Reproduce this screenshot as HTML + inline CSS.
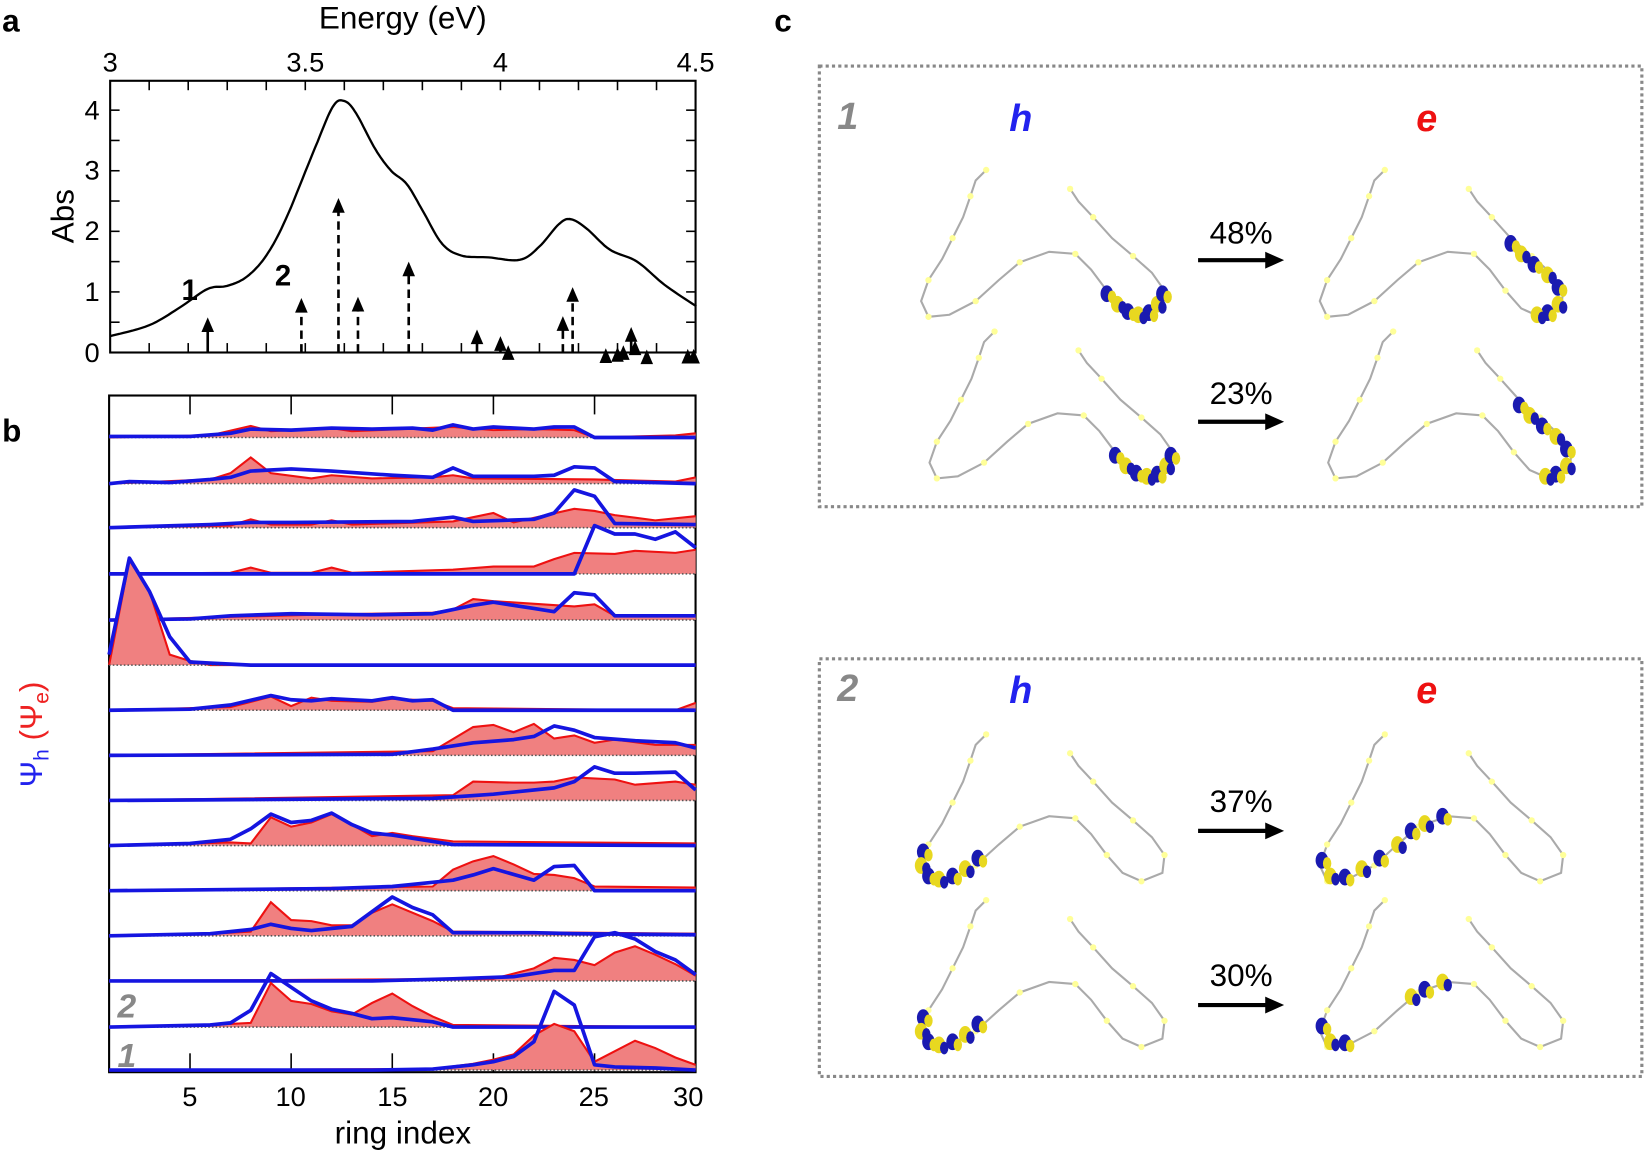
<!DOCTYPE html>
<html><head><meta charset="utf-8"><style>
html,body{margin:0;padding:0;background:#fff}
svg{display:block}
text{font-family:"Liberation Sans",sans-serif}
</style></head><body>
<svg id="s" width="1645" height="1153" viewBox="0 0 1645 1153" xmlns="http://www.w3.org/2000/svg">
<rect width="1645" height="1153" fill="#fff"/>
<g transform="scale(1.04911)">
<text x="2" y="30" font-size="30" font-weight="bold">a</text>
<text x="2" y="421" font-size="30" font-weight="bold">b</text>
<text x="738" y="30" font-size="30" font-weight="bold">c</text>
<text x="384" y="27" font-size="30" text-anchor="middle">Energy (eV)</text>
<g font-size="26" text-anchor="middle">
<text x="105" y="68">3</text><text x="291" y="68">3.5</text><text x="477" y="68">4</text><text x="663" y="68">4.5</text>
</g>
<g font-size="26" text-anchor="end">
<text x="95" y="345">0</text><text x="95" y="287">1</text><text x="95" y="229">2</text><text x="95" y="171">3</text><text x="95" y="114">4</text>
</g>
<text transform="translate(70,206) rotate(-90)" font-size="30" text-anchor="middle">Abs</text>
<text x="173" y="286" font-size="28" font-weight="bold">1</text>
<text x="262" y="272" font-size="28" font-weight="bold">2</text>
<g id="ga"></g>
<g id="gb"></g>
<g font-size="26" text-anchor="middle">
<text x="181" y="1054">5</text><text x="277" y="1054">10</text><text x="374" y="1054">15</text><text x="470" y="1054">20</text><text x="566" y="1054">25</text><text x="656" y="1054">30</text>
</g>
<text x="384" y="1090" font-size="30" text-anchor="middle">ring index</text>
<text transform="translate(40,700) rotate(-90)" font-size="30" text-anchor="middle" font-family="Liberation Serif,serif"><tspan fill="#2222ee">Ψ<tspan font-size="20" dy="6">h</tspan></tspan><tspan fill="#ee2222" dy="-6"> (Ψ<tspan font-size="20" dy="6">e</tspan><tspan dy="-6">)</tspan></tspan></text>
<text x="112" y="970" font-size="32" font-weight="bold" font-style="italic" fill="#888">2</text>
<text x="112" y="1017" font-size="32" font-weight="bold" font-style="italic" fill="#888">1</text>
<rect x="781" y="63" width="784" height="420" fill="none" stroke="#888" stroke-width="3" stroke-dasharray="3,3"/>
<rect x="781" y="628" width="784" height="398" fill="none" stroke="#888" stroke-width="3" stroke-dasharray="3,3"/>
<g font-size="36" font-weight="bold" font-style="italic">
<text x="798" y="123" fill="#888">1</text><text x="962" y="125" fill="#2222ee">h</text><text x="1350" y="125" fill="#ee1111">e</text>
<text x="798" y="668" fill="#888">2</text><text x="962" y="670" fill="#2222ee">h</text><text x="1350" y="670" fill="#ee1111">e</text>
</g>
<g font-size="30" text-anchor="middle">
<text x="1183" y="232">48%</text><text x="1183" y="385">23%</text>
<text x="1183" y="774">37%</text><text x="1183" y="940">30%</text>
</g>
<g id="gc"></g>
</g>
</svg>
<script>
var NS="http://www.w3.org/2000/svg";
function el(p,t,a){var e=document.createElementNS(NS,t);for(var k in a)e.setAttribute(k,a[k]);p.appendChild(e);return e;}
var ga=document.getElementById('ga'),gb=document.getElementById('gb'),gc=document.getElementById('gc');
var X=function(E){return 105+(E-3)*372;},Y=function(v){return 336-v*57.75;};
el(ga,'rect',{x:105,y:77,width:558,height:259,fill:'none',stroke:'#000','stroke-width':2});
for(var e=3.1;e<4.45;e+=0.1){var x=X(e);el(ga,'line',{x1:x,y1:336,x2:x,y2:327,stroke:'#000','stroke-width':1.5});el(ga,'line',{x1:x,y1:77,x2:x,y2:86,stroke:'#000','stroke-width':1.5});}
for(var v=0.5;v<4.4;v+=0.5){var y=Y(v);el(ga,'line',{x1:105,y1:y,x2:114,y2:y,stroke:'#000','stroke-width':1.5});el(ga,'line',{x1:663,y1:y,x2:654,y2:y,stroke:'#000','stroke-width':1.5});}
var cp=[[3,0.27],[3.1,0.45],[3.18,0.75],[3.25,1.05],[3.3,1.1],[3.35,1.25],[3.4,1.6],[3.45,2.2],[3.52,3.3],[3.57,4.05],[3.6,4.15],[3.63,3.95],[3.68,3.35],[3.72,3.0],[3.76,2.78],[3.8,2.35],[3.85,1.8],[3.9,1.6],[3.97,1.57],[4.05,1.53],[4.1,1.75],[4.15,2.12],[4.18,2.2],[4.22,2.05],[4.28,1.7],[4.35,1.5],[4.42,1.12],[4.5,0.77]];
var pts=[];
for(var i=0;i<cp.length-1;i++){var p0=cp[Math.max(i-1,0)],p1=cp[i],p2=cp[i+1],p3=cp[Math.min(i+2,cp.length-1)];
for(var t=0;t<1;t+=0.1){var t2=t*t,t3=t2*t;var f=function(a,b,c,d){return 0.5*((2*b)+(-a+c)*t+(2*a-5*b+4*c-d)*t2+(-a+3*b-3*c+d)*t3);};
pts.push(X(f(p0[0],p1[0],p2[0],p3[0])).toFixed(1)+','+Y(f(p0[1],p1[1],p2[1],p3[1])).toFixed(1));}}
pts.push(X(4.5)+','+Y(0.77));
el(ga,'polyline',{points:pts.join(' '),fill:'none',stroke:'#000','stroke-width':2.2});
var st=[[3.25,0.58,0],[3.49,0.9,1],[3.585,2.55,1],[3.635,0.92,1],[3.765,1.5,1],[3.94,0.38,0],[4.0,0.27,0],[4.02,0.12,0],[4.16,0.6,1],[4.185,1.08,1],[4.27,0.07,0],[4.3,0.09,0],[4.315,0.12,0],[4.335,0.42,0],[4.345,0.2,0],[4.375,0.05,0],[4.48,0.06,0],[4.495,0.06,0]];
st.forEach(function(s){var x=X(s[0]),yt=Y(s[1]);
el(ga,'line',{x1:x,y1:336,x2:x,y2:yt+12,stroke:'#000','stroke-width':2.5,'stroke-dasharray':s[2]?'8,5':'none'});
el(ga,'polygon',{points:(x-6)+','+(yt+14)+' '+(x+6)+','+(yt+14)+' '+x+','+yt,fill:'#000'});});
var RX=function(r){return 104+(r-1)*19.28;};
el(gb,'rect',{x:104,y:377,width:559,height:645,fill:'none',stroke:'#000','stroke-width':2});
[5,10,15,20,25].forEach(function(r){var x=RX(r);el(gb,'line',{x1:x,y1:377,x2:x,y2:395,stroke:'#000','stroke-width':1.5});el(gb,'line',{x1:x,y1:1022,x2:x,y2:1004,stroke:'#000','stroke-width':1.5});});
var base=[417,461,503,547,591,634,677,720,763,806,849,892,935,979,1020];
var rows=[
{b:[[1,1],[5,1],[7,4],[8,8],[10,7],[12,9],[14,8],[16,9],[17,7],[18,12],[19,8],[20,10],[22,8],[23,10],[24,10],[25,0],[30,0]],r:[[1,0],[6,2],[8,11],[9,6],[12,9],[13,6],[18,10],[20,7],[22,8],[24,7],[25,0],[29,2],[30,4]]},
{b:[[1,0],[2,2],[4,1],[6,4],[7,6],[8,12],[10,14],[12,12],[15,8],[17,6],[18,15],[19,7],[22,7],[23,8],[24,16],[25,15],[26,2],[30,0]],r:[[1,0],[6,4],[7,10],[8,25],[9,10],[11,5],[12,8],[14,5],[17,6],[18,8],[19,5],[25,4],[29,2],[30,6]]},
{b:[[1,0],[6,3],[8,5],[10,5],[16,6],[18,10],[19,6],[22,8],[23,14],[24,36],[25,30],[26,4],[30,3]],r:[[1,0],[7,2],[8,8],[9,3],[11,3],[12,7],[13,3],[18,6],[19,10],[20,14],[21,5],[24,18],[25,16],[26,12],[28,7],[30,11]]},
{b:[[1,0],[24,0],[25,46],[26,38],[27,38],[28,33],[29,40],[30,25]],r:[[1,0],[7,1],[8,6],[9,1],[11,1],[12,6],[13,1],[18,4],[20,7],[22,7],[23,14],[24,20],[26,19],[27,22],[29,20],[30,23]]},
{b:[[1,0],[5,1],[7,4],[10,6],[14,5],[17,6],[18,10],[19,14],[20,17],[22,11],[23,8],[24,26],[25,24],[26,4],[30,4]],r:[[1,0],[7,3],[11,5],[17,7],[18,10],[19,20],[20,18],[24,13],[25,15],[26,4],[30,4]]},
{b:[[1,10],[2,102],[3,70],[4,27],[5,3],[6,2],[8,0],[30,0]],r:[[1,0],[2,100],[3,70],[4,10],[5,4],[6,0],[30,0]]},
{b:[[1,0],[5,1],[7,5],[9,14],[10,10],[11,9],[12,11],[14,9],[15,12],[16,9],[17,10],[18,0],[30,0]],r:[[1,0],[7,3],[9,13],[10,4],[11,12],[12,9],[14,8],[15,11],[17,9],[18,2],[29,0],[30,7]]},
{b:[[1,0],[15,1],[17,6],[19,12],[21,15],[22,18],[23,28],[24,24],[25,17],[27,14],[29,12],[30,7]],r:[[1,0],[17,4],[19,27],[20,29],[21,22],[22,30],[23,16],[24,19],[25,12],[26,15],[28,10],[30,10]]},
{b:[[1,0],[17,2],[20,6],[23,12],[24,18],[25,32],[26,26],[27,26],[29,27],[30,10]],r:[[1,0],[18,5],[19,18],[21,17],[22,17],[23,18],[24,22],[26,20],[27,15],[29,18],[30,15]]},
{b:[[1,0],[5,2],[7,6],[8,16],[9,30],[10,22],[11,24],[12,31],[13,20],[14,12],[15,10],[17,4],[18,1],[30,0]],r:[[1,0],[7,3],[8,2],[9,27],[10,18],[11,22],[12,30],[13,20],[14,9],[15,12],[16,9],[18,4],[30,2]]},
{b:[[1,0],[12,2],[15,4],[17,8],[18,10],[19,15],[20,21],[22,10],[23,23],[24,24],[25,0],[30,0]],r:[[1,0],[17,4],[18,20],[19,28],[20,33],[21,25],[22,16],[23,15],[24,12],[25,4],[30,3]]},
{b:[[1,0],[6,2],[8,6],[9,11],[10,7],[11,5],[13,9],[15,37],[16,27],[17,20],[18,3],[22,3],[24,2],[30,1]],r:[[1,0],[7,3],[8,4],[9,32],[10,15],[11,14],[12,10],[13,10],[14,22],[15,30],[17,14],[18,4],[30,2]]},
{b:[[1,0],[14,0],[18,2],[21,4],[23,10],[24,10],[25,42],[26,46],[27,40],[28,28],[29,20],[30,6]],r:[[1,0],[20,2],[22,12],[23,22],[24,20],[25,15],[26,27],[27,33],[28,25],[29,16],[30,5]]},
{b:[[1,0],[6,2],[7,4],[8,16],[9,51],[10,38],[11,25],[12,17],[13,13],[14,8],[15,9],[17,5],[18,0],[30,0]],r:[[1,0],[7,3],[8,4],[9,42],[10,25],[11,22],[12,15],[13,12],[14,23],[15,32],[16,20],[17,10],[18,2],[30,0]]},
{b:[[1,0],[14,0],[17,1],[19,5],[20,8],[21,13],[22,27],[23,75],[24,62],[25,5],[26,3],[28,2],[30,0]],r:[[1,0],[17,1],[19,6],[20,10],[21,15],[22,33],[23,44],[24,37],[25,8],[27,28],[28,21],[29,12],[30,5]]}
];
function poly(arr,b){return arr.map(function(p){return RX(p[0]).toFixed(1)+','+(b-p[1]).toFixed(1);}).join(' ');}
rows.forEach(function(R,i){var b=base[i];
var rp=poly(R.r,b);
el(gb,'polygon',{points:RX(1)+','+b+' '+rp+' '+RX(30)+','+b,fill:'#f08080',stroke:'none'});
el(gb,'polyline',{points:rp,fill:'none',stroke:'#ee1111','stroke-width':2});
el(gb,'line',{x1:104,y1:b,x2:663,y2:b,stroke:'#555','stroke-width':1.5,'stroke-dasharray':'1.5,2'});
el(gb,'polyline',{points:poly(R.b,b),fill:'none',stroke:'#1515e0','stroke-width':3.5,'stroke-linejoin':'round'});
});
[[1142,248],[1142,402],[1142,792],[1142,958]].forEach(function(a){
el(gc,'line',{x1:a[0],y1:a[1],x2:a[0]+66,y2:a[1],stroke:'#000','stroke-width':4});
el(gc,'polygon',{points:(a[0]+64)+','+(a[1]-8)+' '+(a[0]+82)+','+a[1]+' '+(a[0]+64)+','+(a[1]+8),fill:'#000'});});
var M=[[80,0],[70,10],[65,25],[58,45],[48,65],[38,85],[25,105],[18,125],[25,140],[45,138],[70,125],[92,105],[112,88],[140,78],[165,80],[180,95],[195,115],[210,132],[228,140],[248,132],[250,115],[238,98],[220,82],[200,65],[182,45],[168,30],[160,18]];
function mol(ox,oy,blobs){var g=el(gc,'g',{transform:'translate('+ox+','+oy+')'});
el(g,'polyline',{points:M.map(function(p){return p.join(',');}).join(' '),fill:'none',stroke:'#aaa','stroke-width':2});
M.forEach(function(p,i){if(i%2==0)el(g,'circle',{cx:p[0],cy:p[1],r:3,fill:'#ffff99'});});
blobs.forEach(function(b,i){el(g,'ellipse',{cx:b[0],cy:b[1],rx:6,ry:8,fill:i%2?'#e8d820':'#1a1ab0'});el(g,'ellipse',{cx:b[0]+5,cy:b[1]+3,rx:4,ry:6,fill:i%2?'#1a1ab0':'#e8d820'});});}
var bR=[[195,118],[205,128],[215,135],[225,138],[235,136],[243,128],[248,118]];
var bRe=[[200,70],[210,80],[222,90],[235,100],[245,112],[245,128],[235,136],[225,138]];
var bL=[[20,112],[18,125],[25,135],[35,138],[48,135],[60,128],[72,118]];
var bLe=[[20,120],[28,135],[42,136],[58,128],[75,118],[92,105],[105,92],[118,85],[135,78]];
mol(860,162,bR);mol(1240,162,bRe);mol(868,316,bR);mol(1248,316,bRe);
mol(860,700,bL);mol(1240,700,bLe);mol(860,858,bL);mol(1240,858,bLe.slice(0,3).concat(bLe.slice(6)));
</script>
</body></html>
